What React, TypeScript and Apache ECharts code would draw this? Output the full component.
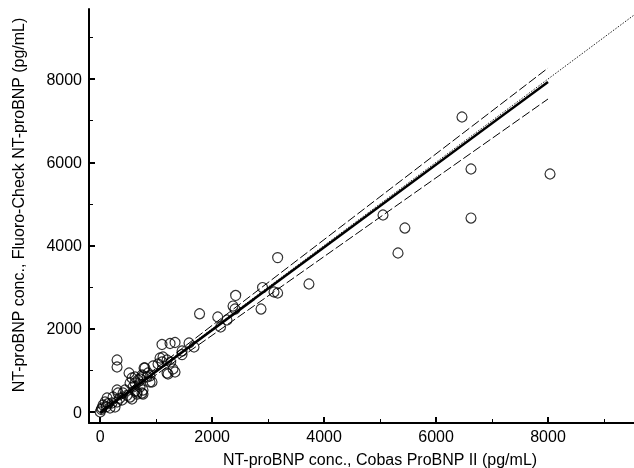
import React, { useEffect, useRef } from "react";
import * as echarts from "echarts";

const cobasValues = [
  0, 20, 32, 50, 86, 110, 122, 140, 175, 211, 229, 265, 301, 301, 301, 301, 318, 350, 390, 408, 443, 480,
  515, 533, 533, 568, 568, 586, 622, 622, 622, 658, 658, 676, 711, 711, 747, 747, 765, 765, 765, 783,
  800, 836, 854, 890, 890, 926, 944, 1033, 1069, 1104, 1122, 1194, 1194, 1212, 1260, 1301, 1337,
  1104, 1248, 1337, 1587, 1676, 1462, 1462, 1775, 2100, 2265, 2150, 2420, 2373, 2408, 2873, 2900,
  3170, 3170, 3105, 3729, 5052, 5320, 5443, 6463, 6624, 6624, 8036,
];
const fluoroValues = [
  0, 60, 96, 168, 240, 130, 336, 200, 96, 216, 360, 120, 240, 528, 1081, 1249, 456, 330, 288, 456, 528, 400,
  937, 360, 697, 312, 817, 601, 697, 841, 504, 480, 432, 769, 793, 601, 456, 889, 528, 865, 432, 1057,
  1057, 841, 937, 865, 721, 721, 1105, 1153, 1297, 1201, 1321, 1249, 937, 913, 1200, 1033, 961,
  1622, 1646, 1670, 1658, 1562, 1465, 1380, 2360, 2282, 2210, 2042, 2800, 2546, 2474, 2474, 2990,
  3710, 2859, 2883, 3075, 4733, 3820, 4420, 7087, 5838, 4660, 5718,
];

// Regression line and its confidence band (end points), identity line
const regressionLine = [[0, -15], [8000, 7929]];
const upperBand = [[0, 20], [8000, 8264]];
const lowerBand = [[0, -50], [8000, 7520]];
const identityLine = [[0, 0], [9700, 9700]];

const majorTicks = [0, 2000, 4000, 6000, 8000];
const minorTicks = [1000, 3000, 5000, 7000, 9000];

const xTitle = "NT-proBNP conc., Cobas ProBNP II (pg/mL)";
const yTitle = "NT-proBNP conc., Fluoro-Check NT-proBNP (pg/mL)";

const FONT = "Liberation Sans, Arial, sans-serif";

export default function App() {
  const ref = useRef<HTMLDivElement>(null);
  useEffect(() => {
    if (!ref.current) return;
    const chart = echarts.init(ref.current, undefined, { renderer: "svg" });
    const xMin = -200, xMax = 9536, yMin = -264, yMax = 9682;
    const majorAxis = (isX: boolean) => ({
      type: "value",
      min: isX ? xMin : yMin,
      max: isX ? xMax : yMax,
      position: isX ? "bottom" : "left",
      axisLine: { show: true, onZero: false, lineStyle: { color: "#000", width: 2 } },
      axisTick: { show: true, inside: true, length: 6, customValues: majorTicks, lineStyle: { color: "#000", width: 2 } },
      axisLabel: {
        show: true,
        customValues: majorTicks,
        formatter: (v: number) => String(v),
        color: "#000",
        fontSize: 16,
        fontFamily: FONT,
        margin: isX ? 5 : 7,
      },
      splitLine: { show: false },
    });
    const minorAxis = (isX: boolean) => ({
      type: "value",
      min: isX ? xMin : yMin,
      max: isX ? xMax : yMax,
      position: isX ? "bottom" : "left",
      axisLine: { show: false, onZero: false },
      axisTick: { show: true, inside: true, length: 4, customValues: minorTicks, lineStyle: { color: "#000", width: 1 } },
      axisLabel: { show: false },
      splitLine: { show: false },
    });
    const points = cobasValues.map((x, i) => [x, fluoroValues[i]]);
    chart.setOption({
      animation: false,
      grid: { left: 89, top: 9, right: 0, bottom: 45, containLabel: false },
      xAxis: [majorAxis(true), minorAxis(true)],
      yAxis: [majorAxis(false), minorAxis(false)],
      series: [
        {
          type: "scatter",
          data: points,
          symbol: "circle",
          symbolSize: 10,
          itemStyle: { color: "rgba(255,255,255,0)", borderColor: "#000", borderWidth: 1.2 },
          z: 2,
        },
        {
          type: "line",
          data: identityLine,
          showSymbol: false,
          lineStyle: { color: "#222", width: 1, type: [1.5, 1.5] },
          z: 3,
        },
        {
          type: "line",
          data: upperBand,
          showSymbol: false,
          lineStyle: { color: "#000", width: 1, type: [9, 3] },
          z: 3,
        },
        {
          type: "line",
          data: lowerBand,
          showSymbol: false,
          lineStyle: { color: "#000", width: 1, type: [9, 3] },
          z: 3,
        },
        {
          type: "line",
          data: regressionLine,
          showSymbol: false,
          lineStyle: { color: "#000", width: 2.5 },
          z: 4,
        },
      ],
      graphic: [
        {
          type: "text",
          x: 380,
          y: 459,
          style: { text: xTitle, fill: "#000", font: `16px ${FONT}`, textAlign: "center", textVerticalAlign: "middle" },
        },
        {
          type: "text",
          x: 18,
          y: 205,
          rotation: Math.PI / 2,
          style: { text: yTitle, fill: "#000", font: `16px ${FONT}`, textAlign: "center", textVerticalAlign: "middle" },
        },
      ],
    });
    return () => chart.dispose();
  }, []);
  return <div ref={ref} style={{ position: "fixed", left: 0, top: 0, width: 634, height: 468 }} />;
}
